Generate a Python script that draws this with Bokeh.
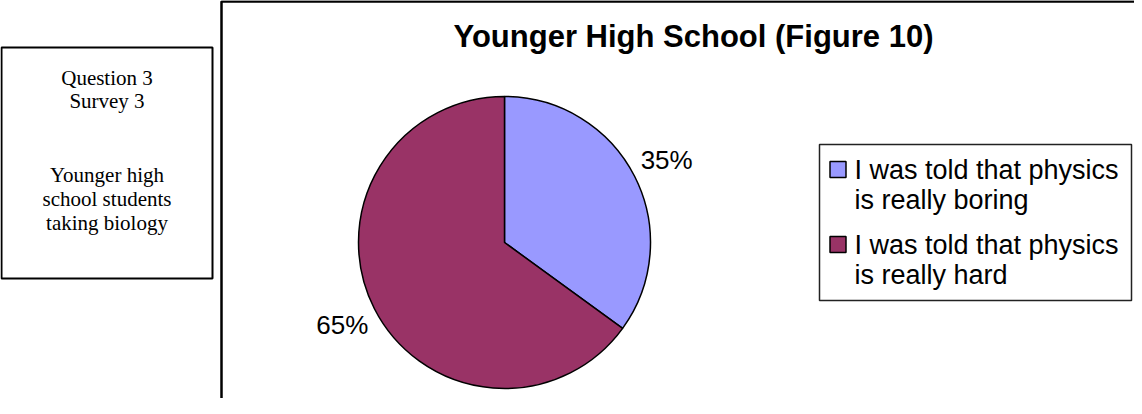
import math
from bokeh.plotting import figure
from bokeh.models import Range1d
from bokeh.core.properties import value
from bokeh.embed import file_html
from bokeh.resources import INLINE

# ---- data ----
categories = ["I was told that physics is really boring",
              "I was told that physics is really hard"]
legend_lines = [["I was told that physics", "is really boring"],
                ["I was told that physics", "is really hard"]]
values = [35, 65]
colors = ["#9999FF", "#993366"]
title = "Younger High School (Figure 10)"
side_note = ["Question 3", "Survey 3", "", "Younger high", "school students", "taking biology"]

W, H = 1134, 398
p = figure(width=W, height=H, output_backend="svg", toolbar_location=None,
           x_range=Range1d(8, 8 + W), y_range=Range1d(414 - 8 - H, 414 - 8),
           min_border=0)
p.axis.visible = False
p.grid.visible = False
p.outline_line_color = None
p.background_fill_color = "white"
p.border_fill_color = "white"


def Y(py):
    return 414 - py


# side box
p.quad(left=[9], right=[220], top=[Y(55)], bottom=[Y(286)],
       fill_color=None, line_color="black", line_width=2)
side_y = [85, 108, None, 182, 206, 230]
for t, yy in zip(side_note, side_y):
    if t:
        p.text(x=[114.5], y=[Y(yy)], text=[t], text_align="center",
               text_baseline="middle", text_font=value("Liberation Serif"),
               text_font_size="21px", text_color="black")

# chart frame
p.quad(left=[229], right=[1300], top=[Y(9)], bottom=[Y(500)],
       fill_color=None, line_color="black", line_width=2.5)

# title
p.text(x=[701], y=[Y(44)], text=[title], text_align="center",
       text_baseline="middle", text_font=value("Liberation Sans"),
       text_font_style="bold", text_font_size="31px", text_color="black")

# pie
cx, cy, r = 512, Y(250), 146
total = sum(values)
cum = 0
starts, ends, mids = [], [], []
for v in values:
    a0 = math.pi / 2 - 2 * math.pi * cum / total
    cum += v
    a1 = math.pi / 2 - 2 * math.pi * cum / total
    starts.append(a0)
    ends.append(a1)
    mids.append((a0 + a1) / 2)
p.wedge(x=[cx] * len(values), y=[cy] * len(values), radius=r,
        start_angle=starts, end_angle=ends, direction="clock",
        fill_color=colors, line_color="black", line_width=1.5)

# percentage labels
lr = 182
for v, m in zip(values, mids):
    p.text(x=[cx + lr * math.cos(m)], y=[cy + lr * math.sin(m)],
           text=[f"{v}%"], text_align="center", text_baseline="middle",
           text_font=value("Liberation Sans"), text_font_size="26px",
           text_color="black")

# legend
p.quad(left=[827], right=[1139], top=[Y(152)], bottom=[Y(308)],
       fill_color="white", line_color="#222222", line_width=1.5)
item_y = [177, 252]
for lines, col, iy in zip(legend_lines, colors, item_y):
    p.rect(x=[845.5], y=[Y(iy)], width=16, height=16, fill_color=col,
           line_color="black", line_width=1.5)
    for k, ln in enumerate(lines):
        p.text(x=[862], y=[Y(iy + k * 30)], text=[ln], text_align="left",
               text_baseline="middle", text_font=value("Liberation Sans"),
               text_font_size="27px", text_color="black")

open("out.html", "w").write(file_html(p, INLINE))
